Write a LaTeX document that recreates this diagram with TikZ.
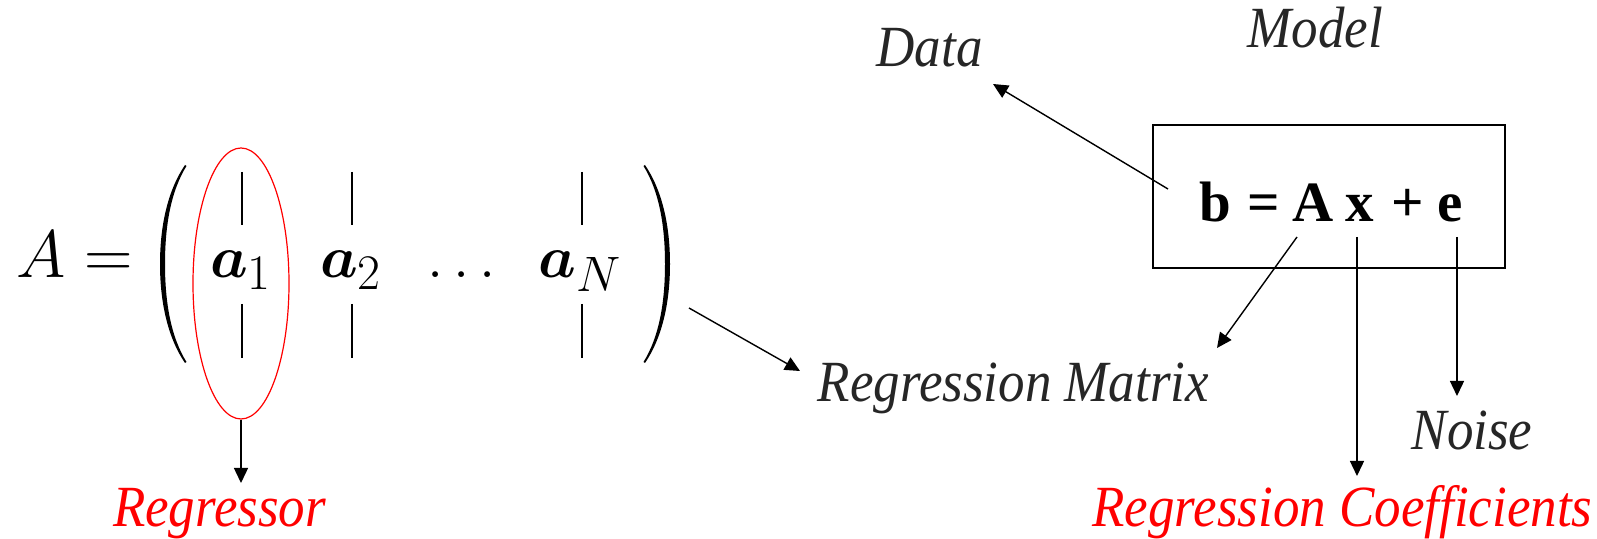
\documentclass[tikz,border=0pt]{standalone}
\usepackage{amsmath}
\usepackage{fontspec}
\newfontfamily\tms{Liberation Serif}
\usetikzlibrary{arrows.meta,shapes.geometric}
\newcommand{\tallbox}[1]{\scalebox{1}[1.1]{#1}}
\newcommand{\bigmath}[1]{\scalebox{1.2}{$#1$}}
\newcommand{\biggermath}[1]{\scalebox{1.35}{$#1$}}
\begin{document}
\begin{tikzpicture}[x=0.5pt,y=-0.5pt,
  lbl/.style={font=\tms\itshape\fontsize{26.5}{30}\selectfont, text=black!85, inner sep=0pt, anchor=base},
  redlbl/.style={lbl, text=red},
  eqs/.style={font=\tms\bfseries\fontsize{28.5}{32}\selectfont, inner sep=0pt, anchor=base},
  mth/.style={font=\fontsize{24.88}{30}\selectfont, inner sep=0pt, anchor=base},
  colbar/.style={line width=0.7pt},
  arr/.style={-{Triangle[length=7.5pt,width=7pt]}, line width=0.7pt},
  parenfill/.style={fill=black}]
\useasboundingbox (0,0) rectangle (1597,539);

% ---- matrix ----
\node[mth, anchor=base west] (Aeq) at (16,278) {\biggermath{A=}};
\node[mth] (a1) at (241,278) {\bigmath{\boldsymbol{a}_1}};
\node[mth] (a2) at (351,278) {\bigmath{\boldsymbol{a}_2}};
\node[mth] (dots) at (462,278) {\bigmath{\ldots}};
\node[mth] (aN) at (580,278) {\bigmath{\boldsymbol{a}_N}};

\foreach \cx in {242,352,582}{
  \draw[colbar] (\cx,172) -- (\cx,225);
  \draw[colbar] (\cx,304) -- (\cx,358);
}

\fill[parenfill] (185,165) .. controls (168,190) and (160,225) .. (160,264)
  .. controls (160,303) and (168,338) .. (185,363)
  -- (186.5,362) .. controls (171,337) and (165,303) .. (165,264)
  .. controls (165,225) and (171,191) .. (186.5,166) -- cycle;
\fill[parenfill] (645,165) .. controls (662,190) and (670,225) .. (670,264)
  .. controls (670,303) and (662,338) .. (645,363)
  -- (643.5,362) .. controls (659,337) and (665,303) .. (665,264)
  .. controls (665,225) and (659,191) .. (643.5,166) -- cycle;

\node[draw=red, ellipse, line width=0.6pt, inner sep=0pt,
      minimum width=48pt, minimum height=135.5pt] (ell) at (241,283.5) {};

\node[redlbl] (reg) at (219.5,527) {\tallbox{Regressor}};
\coordinate (regtip) at (241,483);
\draw[arr] (ell.south) -- (regtip);

% ---- model ----
\node[lbl] (data) at (929.5,67) {\tallbox{Data}};
\node[lbl] (model) at (1315.5,48) {\tallbox{Model}};
\node[lbl] (rm) at (1013.5,402) {\tallbox{Regression Matrix}};
\node[lbl] (noise) at (1472,450) {\tallbox{Noise}};
\node[redlbl] (rc) at (1342.5,527) {\tallbox{Regression Coefficients}};

\node[draw, line width=0.85pt, inner sep=0pt, minimum width=176pt, minimum height=71.5pt] (box) at (1329,196.5) {};
\node[eqs] (eb) at (1215.5,222) {b};
\node[eqs] (eeq) at (1263.5,222) {=};
\node[eqs] (eA) at (1313,222) {A};
\node[eqs] (ex) at (1360,222) {x};
\node[eqs] (eplus) at (1407.5,222) {+};
\node[eqs] (ee) at (1450.5,222) {e};

\coordinate (mstart) at (689,308);
\coordinate (rmtipL) at (800,371);
\draw[arr] (mstart) -- (rmtipL);

\coordinate (dstart) at (1168,189);
\coordinate (datatip) at (993,84);
\draw[arr] (dstart) -- (datatip);

\coordinate (rmtipR) at (1217,348);
\coordinate (rctip) at (1357,476);
\coordinate (noisetip) at (1457,396);
\draw[arr] ([xshift=-8pt,yshift=-7.5pt]eA.base) -- (rmtipR);
\draw[arr] ([xshift=-1.5pt,yshift=-7.5pt]ex.base) -- (rctip);
\draw[arr] ([xshift=3.25pt,yshift=-7.5pt]ee.base) -- (noisetip);
\end{tikzpicture}
\end{document}
